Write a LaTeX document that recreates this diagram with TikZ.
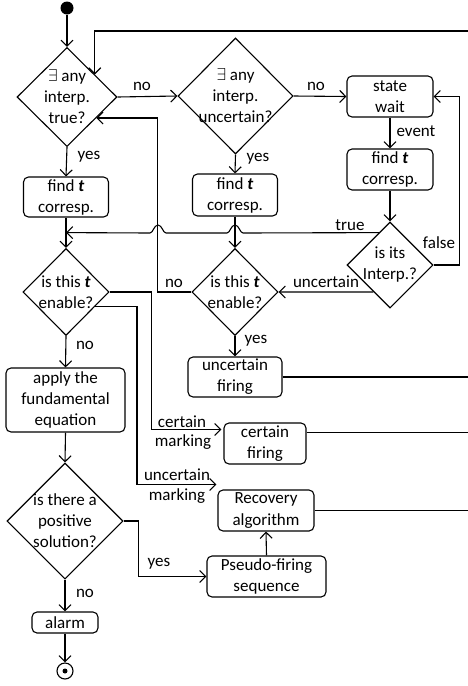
\documentclass[tikz,border=0pt]{standalone}
\usepackage{fontspec}
\setmainfont{Carlito}
\usetikzlibrary{shapes.geometric,arrows.meta,calc}
\begin{document}
\begin{tikzpicture}[x=1pt,y=-1pt, line width=1.1pt,
  font=\fontsize{17}{21}\selectfont,
  box/.style={draw, rounded corners=5pt, align=center, inner sep=0pt},
  dia/.style={draw, diamond, inner sep=0pt},
  dtext/.style={align=center, inner sep=0pt},
  arr/.style={-{Straight Barb[length=6pt,width=12pt]}},
  lbl/.style={inner sep=0pt}]
\useasboundingbox (0,0) rectangle (468,686);

% start / end
\node[circle, fill, inner sep=0pt, minimum size=13pt] (st) at (67,8) {};
\node[circle, draw, inner sep=0pt, minimum size=16pt] (en) at (65,671) {};
\node[circle, fill, inner sep=0pt, minimum size=5pt] (enc) at (en.center) {};

% diamonds
\node[dia, minimum width=100pt, minimum height=99pt,
  label={[dtext]center:{$\exists$ any\\interp.\\true?}}] (d1) at (67,97) {};
\node[dia, minimum width=115pt, minimum height=116pt,
  label={[dtext]center:{$\exists$ any\\interp.\\uncertain?}}] (d2) at (235.5,96) {};
\node[dia, minimum width=86pt, minimum height=86pt,
  label={[dtext]center:{is its\\Interp.?}}] (d3) at (390,265) {};
\node[dia, minimum width=86pt, minimum height=87pt,
  label={[dtext]center:{is this \textbf{\textit{t}}\\enable?}}] (d4) at (66,292) {};
\node[dia, minimum width=86pt, minimum height=87pt,
  label={[dtext]center:{is this \textbf{\textit{t}}\\enable?}}] (d5) at (235,292) {};
\node[dia, minimum width=116pt, minimum height=116pt,
  label={[dtext]center:{is there a\\positive\\solution?}}] (d6) at (65,521) {};

% boxes
\node[box, minimum width=85pt, minimum height=40pt] (b1) at (66,197) {find \textbf{\textit{t}}\\corresp.};
\node[box, minimum width=85pt, minimum height=42pt] (b2) at (235,195) {find \textbf{\textit{t}}\\corresp.};
\node[box, minimum width=86pt, minimum height=41pt] (sw) at (390,96.5) {state\\wait};
\node[box, minimum width=86pt, minimum height=41pt] (b3) at (390,169.5) {find \textbf{\textit{t}}\\corresp.};
\node[box, minimum width=94pt, minimum height=40pt] (uf) at (235,377) {uncertain\\firing};
\node[box, minimum width=119pt, minimum height=64pt] (fe) at (65.5,400) {apply the\\fundamental\\equation};
\node[box, minimum width=82pt, minimum height=41pt] (cf) at (265,443.5) {certain\\firing};
\node[box, minimum width=96pt, minimum height=41pt] (ra) at (266,510.5) {Recovery\\algorithm};
\node[box, minimum width=119pt, minimum height=41pt] (pf) at (266.5,576.5) {Pseudo-firing\\sequence};
\node[box, minimum width=66pt, minimum height=21pt] (al) at (65,622.5) {alarm};

% helper coordinates
\coordinate (rt) at (468,31);
\coordinate (a0) at ($(d1.north)!0.55!(d1.east)$);
\coordinate (a1) at ($(d1.east)!0.42!(d1.south)$);
\coordinate (t0) at ($(d3.north)!0.256!(d3.west)$);
\coordinate (u0) at ($(d3.west)!0.62!(d3.south)$);
\coordinate (a4) at ($(d4.east)!0.33!(d4.south)$);
\coordinate (cft) at ($(cf.north west)+(-2,7)$);
\coordinate (cfo) at ($(cf.north east)+(0,10)$);
\coordinate (umt) at ($(ra.north west)+(-1,-5)$);
\coordinate (tj) at (b1.south |- t0);

% connectors
\draw[arr] (st) -- (d1.north);
\draw[arr] (d1.south) -- (b1.north);
\draw[arr] (d1.east) -- (d2.west);
\draw[arr] (d2.south) -- (b2.north);
\draw[arr] (d2.east) -- (sw.west);
\draw[arr] (sw.south) -- (b3.north);
\draw[arr] (b3.south) -- (d3.north);
\draw[arr] (d3.east) -- ++(26,0) |- (sw.east);
\draw[arr] (b1.south) -- (d4.north);
\draw[arr] (b2.south) -- (d5.north);
\draw[arr] (t0) -- (243,233) .. controls (240,233) and (239,225) .. (235,225)
  .. controls (231,225) and (230,233) .. (227,233) -- (166,233)
  .. controls (163,233) and (162,225) .. (158,225)
  .. controls (154,225) and (153,233) .. (150,233) -- (tj);
\draw[arr] (u0) -- (d5.east);
\draw[arr] (d5.west) -- ++(-34,0) |- (a1);
\draw[arr] (d5.south) -- (uf.north);
\draw[arr] (rt) -| (a0);
\draw (uf.east) -- (uf.east -| rt);
\draw (cfo) -- (cfo -| rt);
\draw (ra.east) -- (ra.east -| rt);
\draw[arr] (d4.south) -- (fe.north);
\draw[arr] (d4.east) -- ++(42,0) |- (cft);
\draw[arr] (a4) -- (137,0 |- a4) |- (umt);
\draw[arr] (fe.south) -- (d6.north);
\draw[arr] (d6.east) -- ++(15,0) |- (pf.west);
\draw[arr] (pf.north) -- (ra.south);
\draw[arr] (d6.south) -- (al.north);
\draw[arr] (al.south) -- (en.north);

% labels
\node[lbl] (l1) at (89,157) {yes};
\node[lbl] (l2) at (142,86) {no};
\node[lbl] (l3) at (258,159) {yes};
\node[lbl] (l4) at (316,86) {no};
\node[lbl] (l5) at (416,131) {event};
\node[lbl] (l6) at (350,225) {true};
\node[lbl] (l7) at (439,243) {false};
\node[lbl] (l8) at (326,282) {uncertain};
\node[lbl] (l9) at (174,283) {no};
\node[lbl] (l10) at (256,341) {yes};
\node[lbl] (l11) at (85,345) {no};
\node[lbl] (l12) at (182,422) {certain};
\node[lbl] (l13) at (183,442) {marking};
\node[lbl] (l14) at (177,475) {uncertain};
\node[lbl] (l15) at (177,496) {marking};
\node[lbl] (l16) at (159,564) {yes};
\node[lbl] (l17) at (85,593) {no};
\end{tikzpicture}
\end{document}
